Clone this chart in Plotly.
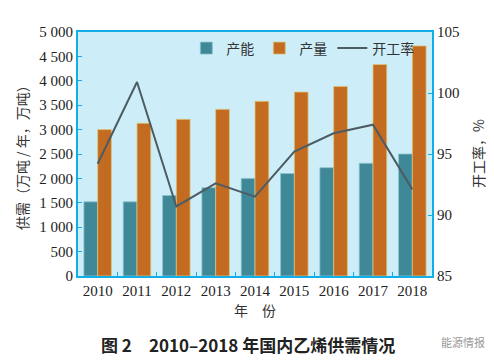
import plotly.graph_objects as go

years = ["2010", "2011", "2012", "2013", "2014", "2015", "2016", "2017", "2018"]
capacity = [1520, 1520, 1650, 1810, 2000, 2100, 2220, 2310, 2500]
production = [3000, 3130, 3210, 3415, 3580, 3770, 3885, 4335, 4715]
utilization = [94.2, 100.9, 90.7, 92.6, 91.5, 95.2, 96.7, 97.4, 92.1]

left_ticks = [0, 500, 1000, 1500, 2000, 2500, 3000, 3500, 4000, 4500, 5000]
left_labels = ["0", "500", "1 000", "1 500", "2 000", "2 500", "3 000", "3 500", "4 000", "4 500", "5 000"]
right_ticks = [85, 90, 95, 100, 105]

BLUE = "#12aee8"
CJK = "Noto Sans CJK SC"
NUM = "Liberation Serif"

fig = go.Figure()
fig.add_trace(go.Bar(x=years, y=capacity, name="产能", marker=dict(color="#3e8898", line=dict(color="#8cc3cc", width=0.8))))
fig.add_trace(go.Bar(x=years, y=production, name="产量", marker=dict(color="#c46b22", line=dict(color="#d9c67c", width=0.8))))
fig.add_trace(go.Scatter(x=years, y=utilization, name="开工率", yaxis="y2", mode="lines",
                         line=dict(color="#4d5c63", width=2)))

# page body has an 8px default margin, so the figure is sized/margined to compensate
fig.update_layout(
    width=486, height=352,
    margin=dict(l=70, r=62, t=24, b=84),
    paper_bgcolor="white", plot_bgcolor="#cdeef9",
    barmode="group", bargap=0.3, bargroupgap=0,
    showlegend=True,
    legend=dict(orientation="h", x=0.306, xanchor="left", y=0.998, yanchor="top",
                bgcolor="rgba(0,0,0,0)", font=dict(family=CJK, size=14, color="#333"),
                itemwidth=30, tracegroupgap=0),
    xaxis=dict(type="category", tickson="boundaries", ticks="inside", ticklen=4, tickcolor=BLUE,
               showline=True, linecolor=BLUE, linewidth=2, mirror=True, showgrid=False, tickangle=0,
               tickfont=dict(family=NUM, size=15, color="#222")),
    yaxis=dict(range=[0, 5000], tickvals=left_ticks, ticktext=left_labels, ticks="inside", ticklen=4,
               tickcolor=BLUE, showline=True, linecolor=BLUE, linewidth=2, showgrid=False, zeroline=False,
               tickfont=dict(family=NUM, size=15, color="#222")),
    yaxis2=dict(range=[85, 105], tickvals=right_ticks, overlaying="y", side="right", ticks="inside", ticklen=4,
                tickcolor=BLUE, showline=True, linecolor=BLUE, linewidth=2, showgrid=False, zeroline=False,
                tickfont=dict(family=NUM, size=15, color="#222")),
    annotations=[
        dict(text="供需（万吨 / 年，万吨）", xref="paper", yref="paper", x=-0.158, y=0.5,
             xanchor="center", yanchor="middle", textangle=-90, showarrow=False,
             font=dict(family=CJK, size=14, color="#333")),
        dict(text="开工率，%", xref="paper", yref="paper", x=1.13, y=0.5,
             xanchor="center", yanchor="middle", textangle=-90, showarrow=False,
             font=dict(family=CJK, size=14, color="#333")),
        dict(text="年　份", xref="paper", yref="paper", x=0.5, y=-0.139,
             xanchor="center", yanchor="middle", showarrow=False,
             font=dict(family=CJK, size=14, color="#333")),
        dict(text="<b>图 2　2010–2018 年国内乙烯供需情况</b>", xref="paper", yref="paper",
             x=0.48, y=-0.28, xanchor="center", yanchor="middle", showarrow=False,
             font=dict(family=CJK, size=17, color="#222")),
        dict(text="能源情报", xref="paper", yref="paper", x=1.155, y=-0.272, xanchor="right", yanchor="middle",
             showarrow=False, font=dict(family=CJK, size=11, color="#999")),
    ],
)

fig.write_html("out.html")
